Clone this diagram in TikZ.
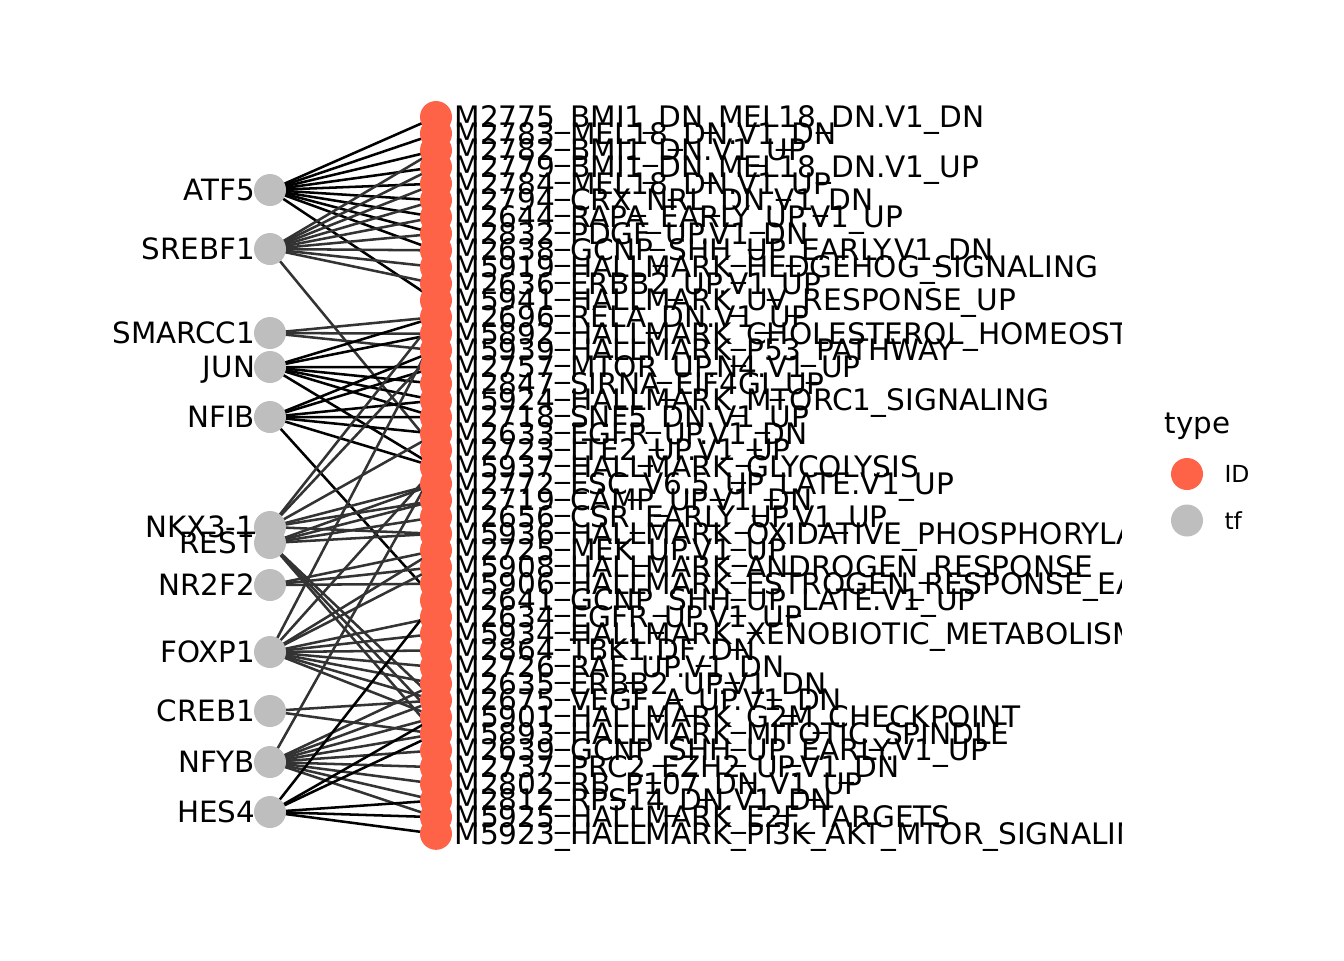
\documentclass[tikz,border=0pt]{standalone}
\usepackage{fontspec}
\setmainfont{DejaVu Sans}
\usetikzlibrary{backgrounds}
\definecolor{idred}{HTML}{FF6347}
\definecolor{tfgray}{HTML}{BEBEBE}
\begin{document}
\begin{tikzpicture}[x=0.375pt,y=-0.375pt,
  lab/.style={font=\fontsize{11.1}{13}\selectfont, inner sep=0pt, anchor=base west},
  tlab/.style={font=\fontsize{11}{13}\selectfont, inner sep=0pt, anchor=base east},
  leglab/.style={font=\fontsize{8.8}{10}\selectfont, inner sep=0pt, anchor=base west},
  idn/.style={circle, fill=idred, minimum size=12pt, inner sep=0pt},
  tfn/.style={circle, fill=tfgray, minimum size=12pt, inner sep=0pt},
  eb/.style={line width=0.95pt, black},
  eg/.style={line width=0.95pt, black!80}]
\useasboundingbox (0,0) rectangle (1344,960);
% target (ID) nodes
\foreach \i in {0,...,43} {
  \node[idn] (t\i) at (436, {117+16.67*\i}) {};
}
% tf nodes
\foreach \n/\yy/\txt in {atf/190/ATF5, sre/249/SREBF1, sma/333/SMARCC1, jun/367/JUN,
  nfib/417/NFIB, nkx/527/NKX3-1, rest/543/REST, nr/585/NR2F2, fox/652/FOXP1,
  creb/711/CREB1, nfyb/762/NFYB, hes/812/HES4} {
  \node[tfn] (\n) at (270,\yy) {};
  \node[tlab] (\n-l) at (255.5,{\yy+10.7}) {\txt};
}
% edges
\begin{pgfonlayer}{background}
\foreach \s/\tl/\st in {
  atf/{0,1,2,3,4,5,6,7,8,11}/eb,
  sre/{2,3,4,5,6,7,8,9,10,20}/eg,
  sma/{12,13,14}/eg,
  jun/{12,13,15,16,17,18,21}/eb,
  nfib/{14,15,17,18,19,21,29}/eb,
  nkx/{12,14,19,22,23,25}/eg,
  rest/{22,23,24,25,35,36,37}/eg,
  nr/{26,27,28}/eg,
  fox/{13,21,26,27,30,31,32,33,34,35,36}/eg,
  creb/{35,37}/eg,
  nfyb/{21,34,35,36,37,38,39,40,41,42}/eg,
  hes/{29,36,37,41,42,43}/eb} {
  \foreach \t in \tl {
    \draw[\st] (\s.center) -- (t\t.center);
  }
}
\end{pgfonlayer}
% labels
\begin{scope}
\clip (0,0) rectangle (1121,960);
\foreach \lab [count=\i from 0] in {
M2775\_BMI1\_DN\_MEL18\_DN.V1\_DN,
M2783\_MEL18\_DN.V1\_DN,
M2782\_BMI1\_DN.V1\_UP,
M2779\_BMI1\_DN\_MEL18\_DN.V1\_UP,
M2784\_MEL18\_DN.V1\_UP,
M2794\_CRX\_NRL\_DN.V1\_DN,
M2644\_RAPA\_EARLY\_UP.V1\_UP,
M2832\_PDGF\_UP.V1\_DN,
M2638\_GCNP\_SHH\_UP\_EARLY.V1\_DN,
M5919\_HALLMARK\_HEDGEHOG\_SIGNALING,
M2636\_ERBB2\_UP.V1\_UP,
M5941\_HALLMARK\_UV\_RESPONSE\_UP,
M2696\_RELA\_DN.V1\_UP,
M5892\_HALLMARK\_CHOLESTEROL\_HOMEOSTASIS,
M5939\_HALLMARK\_P53\_PATHWAY,
M2757\_MTOR\_UP.N4.V1\_UP,
M2847\_SIRNA\_EIF4GI\_UP,
M5924\_HALLMARK\_MTORC1\_SIGNALING,
M2718\_SNF5\_DN.V1\_UP,
M2633\_EGFR\_UP.V1\_DN,
M2723\_LTE2\_UP.V1\_UP,
M5937\_HALLMARK\_GLYCOLYSIS,
M2772\_ESC\_V6.5\_UP\_LATE.V1\_UP,
M2719\_CAMP\_UP.V1\_DN,
M2656\_CSR\_EARLY\_UP.V1\_UP,
M5936\_HALLMARK\_OXIDATIVE\_PHOSPHORYLATION,
M2725\_MEK\_UP.V1\_UP,
M5908\_HALLMARK\_ANDROGEN\_RESPONSE,
M5906\_HALLMARK\_ESTROGEN\_RESPONSE\_EARLY,
M2641\_GCNP\_SHH\_UP\_LATE.V1\_UP,
M2634\_EGFR\_UP.V1\_UP,
M5934\_HALLMARK\_XENOBIOTIC\_METABOLISM,
M2864\_TBK1.DF\_DN,
M2726\_RAF\_UP.V1\_DN,
M2635\_ERBB2\_UP.V1\_DN,
M2675\_VEGF\_A\_UP.V1\_DN,
M5901\_HALLMARK\_G2M\_CHECKPOINT,
M5893\_HALLMARK\_MITOTIC\_SPINDLE,
M2639\_GCNP\_SHH\_UP\_EARLY.V1\_UP,
M2737\_PRC2\_EZH2\_UP.V1\_DN,
M2802\_RB\_P107\_DN.V1\_UP,
M2812\_RPS14\_DN.V1\_DN,
M5925\_HALLMARK\_E2F\_TARGETS,
M5923\_HALLMARK\_PI3K\_AKT\_MTOR\_SIGNALING} {
  \node[lab] (l\i) at (454, {117+16.67*\i+10.5}) {\lab};
}
\end{scope}
% legend
\node[font=\fontsize{11}{13}\selectfont, inner sep=0pt, anchor=base west] (legt) at (1164,433) {type};
\node[idn] (legid) at (1187,474) {};
\node[tfn] (legtf) at (1187,520.5) {};
\node[leglab] (legidl) at (1224,482.5) {ID};
\node[leglab] (legtfl) at (1224,529) {tf};
\end{tikzpicture}
\end{document}
